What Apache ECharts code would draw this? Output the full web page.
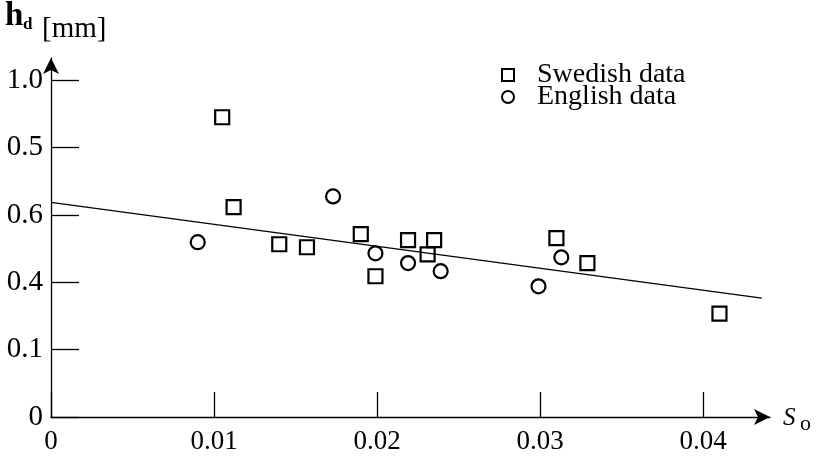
<!DOCTYPE html>
<html>
<head>
<meta charset="utf-8">
<script src="https://cdn.jsdelivr.net/npm/echarts@6/dist/echarts.min.js"></script>
<style>
  html, body { margin: 0; padding: 0; background: #fff; }
  #chart { width: 819px; height: 457px; }
</style>
</head>
<body>
<div id="chart"></div>
<script>
// ---- data ----
const xTickValues = [0, 0.01, 0.02, 0.03, 0.04];
const xTickLabels = ["0", "0.01", "0.02", "0.03", "0.04"];

// tick positions on the y axis and the labels printed beside them
const yTickValues = [0, 0.2, 0.4, 0.6, 0.8, 1.0];
const yTickLabels = ["0", "0.1", "0.4", "0.6", "0.5", "1.0"];

const swedishX = [0.0105, 0.0112, 0.0140, 0.0157, 0.0190, 0.0199, 0.0219, 0.0235, 0.0231, 0.0310, 0.0329, 0.0410];
const swedishY = [0.890, 0.623, 0.513, 0.504, 0.543, 0.418, 0.525, 0.525, 0.483, 0.531, 0.457, 0.307];

const englishX = [0.0090, 0.0173, 0.0199, 0.0219, 0.0239, 0.0299, 0.0313];
const englishY = [0.519, 0.655, 0.486, 0.457, 0.433, 0.388, 0.474];

const fitX = [0, 0.0436];
const fitY = [0.637, 0.353];


const serif = "'Liberation Serif', 'DejaVu Serif', serif";

function pairs(xs, ys){
    return xs.map((x, i) => [x, ys[i]]);
}


const chart = echarts.init(document.getElementById("chart"));


chart.setOption({

    animation: false,

    grid: {
        left: 51,
        right: 49,
        top: 58,
        bottom: 40
    },


    legend: {
        orient: "vertical",
        left: 496,
        top: 56,
        itemWidth: 12,
        itemHeight: 12,
        itemGap: -6,
        textStyle: {
            fontFamily: serif,
            fontSize: 28,
            color: "#000",
            lineHeight: 26,
            padding: [0, 0, 0, 18]
        },
        data: [
            {
                name: "Swedish data",
                icon: "rect",
                itemStyle: { color: "rgba(0,0,0,0)", borderColor: "#000", borderWidth: 2 }
            },
            {
                name: "English data",
                icon: "circle",
                itemStyle: { color: "rgba(0,0,0,0)", borderColor: "#000", borderWidth: 2 }
            }
        ]
    },


    xAxis: {
        type: "value",
        min: 0,
        max: 0.0441,
        splitLine: { show: false },
        axisLine: {
            onZero: false,
            symbol: ["none", "arrow"],
            symbolSize: [12, 16],
            lineStyle: { color: "#000", width: 1.3 }
        },
        axisTick: {
            inside: true,
            length: 25,
            customValues: xTickValues,
            lineStyle: { color: "#000", width: 1.3 }
        },
        axisLabel: {
            customValues: xTickValues,
            margin: 11,
            fontFamily: serif,
            fontSize: 27,
            color: "#000",
            formatter: v => xTickLabels[xTickValues.indexOf(v)] ?? ""
        }
    },


    yAxis: {
        type: "value",
        min: 0,
        max: 1.066,
        splitLine: { show: false },
        axisLine: {
            show: true,
            onZero: false,
            symbol: ["none", "arrow"],
            symbolSize: [12, 16],
            lineStyle: { color: "#000", width: 1.3 }
        },
        axisTick: {
            show: true,
            inside: true,
            length: 28,
            customValues: yTickValues,
            lineStyle: { color: "#000", width: 1.3 }
        },
        axisLabel: {
            customValues: yTickValues,
            margin: 8,
            fontFamily: serif,
            fontSize: 29,
            color: "#000",
            formatter: v => yTickLabels[yTickValues.indexOf(v)] ?? ""
        }
    },


    // axis titles
    graphic: [
        {
            type: "text",
            left: 5,
            top: 0,
            style: { text: "h", font: "bold 33px " + serif, fill: "#000" }
        },
        {
            type: "text",
            left: 23,
            top: 16,
            style: { text: "d", font: "bold 17px " + serif, fill: "#000" }
        },
        {
            type: "text",
            left: 42,
            top: 15,
            style: { text: "[mm]", font: "29px " + serif, fill: "#000" }
        },
        {
            type: "text",
            left: 783,
            top: 406,
            style: { text: "S", font: "italic 25px " + serif, fill: "#000" }
        },
        {
            type: "text",
            left: 800,
            top: 413,
            style: { text: "o", font: "22px " + serif, fill: "#000" }
        }
    ],


    series: [

        {
            name: "Fit",
            type: "line",
            data: pairs(fitX, fitY),
            symbol: "none",
            silent: true,
            lineStyle: { color: "#000", width: 1.3 }
        },

        {
            name: "Swedish data",
            type: "scatter",
            symbol: "rect",
            symbolSize: 14,
            data: pairs(swedishX, swedishY),
            itemStyle: { color: "rgba(0,0,0,0)", borderColor: "#000", borderWidth: 2.2, opacity: 1 }
        },

        {
            name: "English data",
            type: "scatter",
            symbol: "circle",
            symbolSize: 14,
            data: pairs(englishX, englishY),
            itemStyle: { color: "rgba(0,0,0,0)", borderColor: "#000", borderWidth: 2.2, opacity: 1 }
        }

    ]

});
</script>
</body>
</html>
